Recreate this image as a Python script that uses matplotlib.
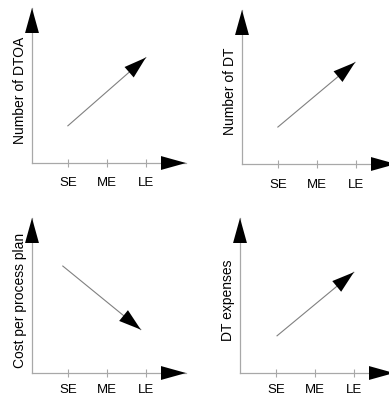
import matplotlib
matplotlib.use('Agg')
from matplotlib import pyplot as plt

plt.rcParams['font.family'] = ['Liberation Sans', 'DejaVu Sans']

# data
levels = ['SE', 'ME', 'LE']
level_pos = [1, 2, 3]
ylabels = ['Number of DTOA', 'Number of DT', 'Cost per process plan', 'DT expenses']
trend_x0 = [1.0, 1.0, 0.87, 1.03]
trend_y0 = [2.4, 2.4, 6.9, 2.4]
trend_x1 = [3.0, 2.98, 2.87, 3.0]
trend_y1 = [6.8, 6.6, 2.8, 6.5]

W, H = 389, 396
fig = plt.figure(figsize=(W / 100, H / 100), dpi=100)

# axis origin (px), height of y axis (px)
origins = [(32, 163), (242, 164), (32, 373), (240, 373)]
heights = [155, 154, 155, 155]
pads = [7, 8, 5, 5]
xlo, xhi = 0.08, 4.03
ylo, yhi = 0, 10
axcol = '#a8a8a8'

for i in range(4):
    ox, oy = origins[i]
    ax = fig.add_axes([ox / W, 1 - oy / H, 154 / W, heights[i] / H])
    ax.set_xlim(xlo, xhi)
    ax.set_ylim(ylo, yhi)
    for s in ax.spines.values():
        s.set_visible(False)
    ax.set_yticks([])
    ax.set_xticks(level_pos)
    ax.set_xticklabels(levels, fontsize=9.5)
    ax.tick_params(axis='x', direction='inout', length=6, width=0.8,
                   color=axcol, pad=pads[i])

    # axes lines with black heads
    ax.plot([xlo, xhi], [0, 0], color=axcol, lw=0.9, clip_on=False)
    ax.plot([xlo, xlo], [0, yhi], color=axcol, lw=0.9, clip_on=False)
    head = dict(arrowstyle='-|>,head_length=1.8,head_width=0.5', color='black',
                lw=0, shrinkA=0, shrinkB=0, mutation_scale=10)
    ax.annotate('', xy=(xhi, 0), xytext=(xlo, 0), arrowprops=head,
                annotation_clip=False)
    ax.annotate('', xy=(xlo, yhi), xytext=(xlo, 0), arrowprops=head,
                annotation_clip=False)

    # trend arrow
    ax.plot([trend_x0[i], trend_x1[i]], [trend_y0[i], trend_y1[i]],
            color='#808080', lw=0.8)
    thead = dict(arrowstyle='-|>,head_length=1.6,head_width=0.5', color='black',
                 lw=0, shrinkA=0, shrinkB=0, mutation_scale=10)
    ax.annotate('', xy=(trend_x1[i], trend_y1[i]),
                xytext=(trend_x0[i], trend_y0[i]), arrowprops=thead)

    ax.text(-0.08, 0.47, ylabels[i], transform=ax.transAxes, rotation=90,
            ha='center', va='center', fontsize=10)

fig.savefig('out.png', dpi=100)
